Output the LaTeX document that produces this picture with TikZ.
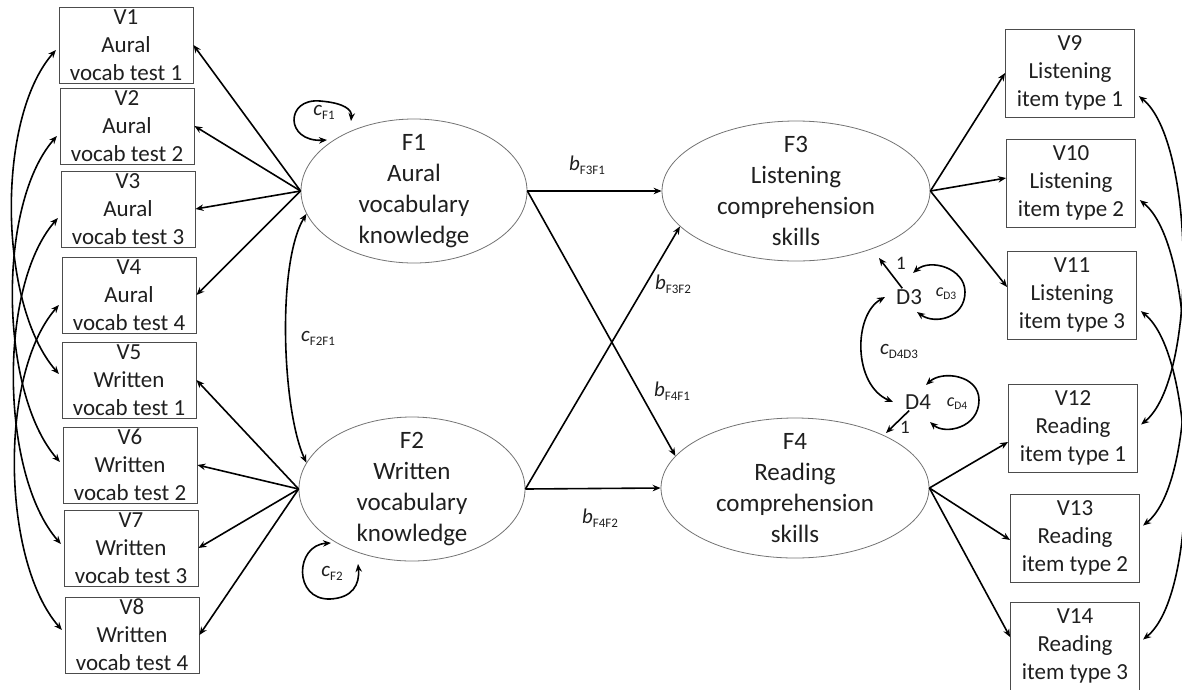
\documentclass[tikz,border=0pt]{standalone}
\usepackage{fontspec}
\setmainfont{Carlito}
\usetikzlibrary{arrows.meta,shapes.geometric}

% italic coefficient symbol with an upright subscript
\newcommand{\semlbl}[2]{{\fontsize{21}{21}\selectfont\itshape #1}\raisebox{-4pt}{\fontsize{13}{13}\selectfont #2}}
\newcommand{\semlblsm}[2]{{\fontsize{18}{18}\selectfont\itshape #1}\raisebox{-3pt}{\fontsize{11.5}{11.5}\selectfont #2}}

\definecolor{ink}{gray}{0.12}

\begin{document}
\begin{tikzpicture}[x=1pt,y=-1pt,
  every node/.style={text=ink},
  tip/.tip={Stealth[length=8pt,width=6.5pt]},
  obsleft/.style={draw=black!70, line width=0.9pt, minimum width=134pt, minimum height=76pt,
    inner sep=0pt, align=center, font=\fontsize{23}{28}\selectfont},
  obsright/.style={draw=black!70, line width=0.9pt, minimum width=129pt, minimum height=88pt,
    inner sep=0pt, align=center, font=\fontsize{23}{28}\selectfont},
  latent/.style={ellipse, draw=black!55, line width=0.8pt, minimum width=226pt, minimum height=144pt, inner sep=0pt},
  latentwide/.style={ellipse, draw=black!55, line width=0.8pt, minimum width=268pt, minimum height=140pt, inner sep=0pt},
  latenttext/.style={inner sep=0pt, align=center, font=\fontsize{25}{31}\selectfont},
  link/.style={-tip, line width=1.6pt},
  twoway/.style={tip-tip, line width=1.6pt},
  lbl/.style={inner sep=0pt},
  dnode/.style={inner sep=1pt, font=\fontsize{23}{23}\selectfont},
  onelbl/.style={inner sep=0pt, font=\fontsize{19}{19}\selectfont}]

\useasboundingbox (0,0) rectangle (1182,689);
\clip (0,0) rectangle (1182,689);

% observed indicators, left
\node[obsleft] (V1) at (126,45)  {V1\\Aural\\vocab test 1};
\node[obsleft] (V2) at (127,126) {V2\\Aural\\vocab test 2};
\node[obsleft] (V3) at (128,209) {V3\\Aural\\vocab test 3};
\node[obsleft] (V4) at (129,295) {V4\\Aural\\vocab test 4};
\node[obsleft] (V5) at (129,380) {V5\\Written\\vocab test 1};
\node[obsleft] (V6) at (130,465) {V6\\Written\\vocab test 2};
\node[obsleft] (V7) at (131,548) {V7\\Written\\vocab test 3};
\node[obsleft] (V8) at (132,635) {V8\\Written\\vocab test 4};

% observed indicators, right
\node[obsright] (V9)  at (1070,73)  {V9\\Listening\\item type 1};
\node[obsright] (V10) at (1071,183) {V10\\Listening\\item type 2};
\node[obsright] (V11) at (1072,295) {V11\\Listening\\item type 3};
\node[obsright] (V12) at (1073,428) {V12\\Reading\\item type 1};
\node[obsright] (V13) at (1075,538) {V13\\Reading\\item type 2};
\node[obsright] (V14) at (1075,646) {V14\\Reading\\item type 3};

% latent factors
\node[latent] (F1) at (414,191) {};
\node[latenttext] (F1t) at (F1) {F1\\Aural\\vocabulary\\knowledge};
\node[latent] (F2) at (412,489) {};
\node[latenttext] (F2t) at (F2) {F2\\Written\\vocabulary\\knowledge};
\node[latentwide] (F3) at (796,191) {};
\node[latenttext] (F3t) at (F3) {F3\\Listening\\comprehension\\skills};
\node[latentwide] (F4) at (795,488) {};
\node[latenttext] (F4t) at (F4) {F4\\Reading\\comprehension\\skills};

% disturbances
\node[dnode] (D3) at (909,297) {D3};
\node[dnode] (D4) at (918,402) {D4};

% loadings
\foreach \v in {V1,V2,V3,V4} \draw[link] (F1.west) -- (\v.east);
\foreach \v in {V5,V6,V7,V8} \draw[link] (F2.west) -- (\v.east);
\draw[link] (F3.east) -- (V9.west);
\draw[link] (F3.east) -- ([yshift=5pt]V10.west);
\draw[link] (F3.east) -- ([yshift=8pt]V11.west);
\draw[link] (F4.east) -- ([yshift=-14pt]V12.west);
\draw[link] (F4.east) -- ([yshift=-2pt]V13.west);
\draw[link] (F4.east) -- ([yshift=9pt]V14.west);

% structural paths
\draw[link] (F1.east) -- (F3.west);
\draw[link] (F1.east) -- (F4.165);
\draw[link] (F2.east) -- (F3.197);
\draw[link] (F2.east) -- (F4.west);

% factor covariance and variances
\draw[twoway] (F1.192) .. controls +(-30,50) and +(-24,-52) .. (F2.166);
\coordinate (cF1a) at (327,140);
\coordinate (cF1b) at (351,121);
\draw[twoway] (cF1a) .. controls (285,142) and (285,98) .. (320,101)
  .. controls (345,103) and (352,110) .. (cF1b);
\coordinate (cF2a) at (331,543);
\coordinate (cF2b) at (358,564);
\draw[twoway] (cF2a) .. controls (295,545) and (293,600) .. (330,599)
  .. controls (352,598) and (360,585) .. (cF2b);

% disturbance paths and variances
\coordinate (d3tip) at (879,258);
\coordinate (d4tip) at (886,433);
\draw[link] (D3) -- (d3tip);
\draw[link] (D4) -- (d4tip);
\coordinate (cD3a) at (913,273);
\coordinate (cD3b) at (917,312);
\draw[twoway] (cD3a) .. controls (930,258) and (965,268) .. (965,292)
  .. controls (965,318) and (935,325) .. (cD3b);
\coordinate (cD4a) at (926,385);
\coordinate (cD4b) at (930,422);
\draw[twoway] (cD4a) .. controls (942,370) and (979,375) .. (979,400)
  .. controls (979,428) and (945,435) .. (cD4b);
\coordinate (cD34a) at (885,297);
\coordinate (cD34b) at (893,402);
\draw[twoway] (cD34a) .. controls (853,315) and (853,385) .. (cD34b);

% correlated residuals, left
\draw[twoway, shorten <=4pt, shorten >=4pt] ([yshift=-2pt]V1.west) .. controls +(-63,72) and +(-63,-72) .. ([yshift=3pt]V5.west);
\draw[twoway, shorten <=4pt, shorten >=4pt] ([yshift=-7pt]V2.west) .. controls +(-63,72) and +(-63,-72) .. (V6.west);
\draw[twoway, shorten <=4pt, shorten >=4pt] ([yshift=-6pt]V3.west) .. controls +(-63,72) and +(-63,-72) .. ([yshift=1pt]V7.west);
\draw[twoway, shorten <=4pt, shorten >=4pt] ([yshift=-7pt]V4.west) .. controls +(-63,72) and +(-63,-72) .. ([yshift=2pt]V8.west);

% correlated residuals, right
\draw[twoway, shorten <=5pt, shorten >=4pt] ([yshift=-20pt]V9.east) .. controls +(60,48) and +(60,-48) .. ([yshift=1pt]V12.east);
\draw[twoway, shorten <=5pt, shorten >=4pt] ([yshift=-14pt]V10.east) .. controls +(60,48) and +(60,-48) .. ([yshift=10pt]V13.east);
\draw[twoway, shorten <=5pt, shorten >=4pt] ([yshift=-13pt]V11.east) .. controls +(60,48) and +(60,-48) .. ([yshift=4pt]V14.east);

% coefficient labels
\node[lbl] (lcF1)   at (324,112) {\semlbl{c}{F1}};
\node[lbl] (lcF2)   at (332,573) {\semlbl{c}{F2}};
\node[lbl] (lcF2F1) at (318,338) {\semlbl{c}{F2F1}};
\node[lbl] (lbF3F1) at (587,165) {\semlbl{b}{F3F1}};
\node[lbl] (lbF3F2) at (673,284) {\semlbl{b}{F3F2}};
\node[lbl] (lbF4F1) at (672,391) {\semlbl{b}{F4F1}};
\node[lbl] (lbF4F2) at (600,518) {\semlbl{b}{F4F2}};
\node[lbl] (lcD3)   at (946,294) {\semlblsm{c}{D3}};
\node[lbl] (lcD4)   at (957,404) {\semlblsm{c}{D4}};
\node[lbl] (lcD4D3) at (899,351) {\semlbl{c}{D4D3}};
\node[onelbl] (one3) at (901,263) {1};
\node[onelbl] (one4) at (905,427) {1};

\end{tikzpicture}
\end{document}
